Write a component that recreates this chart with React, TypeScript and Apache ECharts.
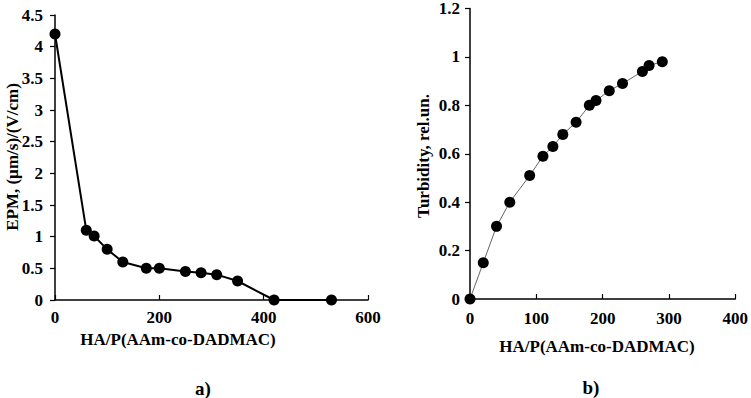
import React, { useEffect, useRef } from "react";
import * as echarts from "echarts";

const epmX = [0, 60, 75, 100, 130, 175, 200, 250, 280, 310, 350, 420, 530];
const epmY = [4.2, 1.1, 1.01, 0.8, 0.6, 0.5, 0.5, 0.45, 0.43, 0.4, 0.3, 0, 0];
const turbX = [0, 20, 40, 60, 90, 110, 125, 140, 160, 180, 190, 210, 230, 260, 270, 290];
const turbY = [0, 0.15, 0.3, 0.4, 0.51, 0.59, 0.63, 0.68, 0.73, 0.8, 0.82, 0.86, 0.89, 0.94, 0.965, 0.98];

const xTitle = "HA/P(AAm-co-DADMAC)";
const yTitleA = "EPM, (µm/s)/(V/cm)";
const yTitleB = "Turbidity, rel.un.";
const panelA = "a)";
const panelB = "b)";

const FONT = "'Liberation Serif', 'Times New Roman', serif";

export default function App() {
  const ref = useRef<HTMLDivElement>(null);
  useEffect(() => {
    if (!ref.current) return;
    const chart = echarts.init(ref.current, undefined, { renderer: "svg" });
    const label = (margin: number) => ({
      color: "#000",
      fontFamily: FONT,
      fontWeight: "bold" as const,
      fontSize: 17,
      margin,
    });
    const axisLine = { show: true, lineStyle: { color: "#000", width: 1.5 } };
    const xCommon = {
      type: "value" as const,
      axisLine,
      axisTick: { show: true, inside: true, length: 5, lineStyle: { color: "#000", width: 1.2 } },
      splitLine: { show: false },
    };
    const yCommon = {
      type: "value" as const,
      axisLine,
      axisTick: { show: true, inside: false, length: 5, lineStyle: { color: "#000", width: 1.2 } },
      splitLine: { show: false },
    };
    const titleStyle = (text: string, size = 17) => ({
      text,
      fontFamily: FONT,
      fontWeight: "bold",
      fontSize: size,
      fill: "#000",
      align: "center",
      verticalAlign: "middle",
    });
    chart.setOption({
      animation: false,
      backgroundColor: "#fff",
      grid: [
        { left: 55, top: 15, width: 313, height: 285 },
        { left: 470, top: 7, width: 268, height: 292 },
      ],
      xAxis: [
        { ...xCommon, gridIndex: 0, min: 0, max: 600, interval: 200, axisLabel: label(9) },
        { ...xCommon, gridIndex: 1, min: 0, max: 400, interval: 100, axisLabel: label(11) },
      ],
      yAxis: [
        { ...yCommon, gridIndex: 0, min: 0, max: 4.5, interval: 0.5, axisLabel: label(12) },
        { ...yCommon, gridIndex: 1, min: 0, max: 1.2, interval: 0.2, axisLabel: label(10) },
      ],
      series: [
        {
          type: "line",
          xAxisIndex: 0,
          yAxisIndex: 0,
          data: epmX.map((x, i) => [x, epmY[i]]),
          symbol: "circle",
          symbolSize: 11,
          lineStyle: { color: "#000", width: 2 },
          itemStyle: { color: "#000" },
        },
        {
          type: "line",
          xAxisIndex: 1,
          yAxisIndex: 1,
          data: turbX.map((x, i) => [x, turbY[i]]),
          symbol: "circle",
          symbolSize: 11,
          lineStyle: { color: "#666", width: 1 },
          itemStyle: { color: "#000" },
        },
      ],
      graphic: [
        { type: "text", x: 178, y: 339, style: titleStyle(xTitle) },
        { type: "text", x: 597, y: 346, style: titleStyle(xTitle) },
        { type: "text", x: 12, y: 157, rotation: Math.PI / 2, style: titleStyle(yTitleA) },
        { type: "text", x: 423, y: 156, rotation: Math.PI / 2, style: titleStyle(yTitleB) },
        { type: "text", x: 203, y: 388, style: titleStyle(panelA, 19) },
        { type: "text", x: 591, y: 387, style: titleStyle(panelB, 19) },
      ],
    });
    return () => chart.dispose();
  }, []);
  return (
    <div
      ref={ref}
      style={{ position: "fixed", left: 0, top: 0, width: 751, height: 398, background: "#fff" }}
    />
  );
}
